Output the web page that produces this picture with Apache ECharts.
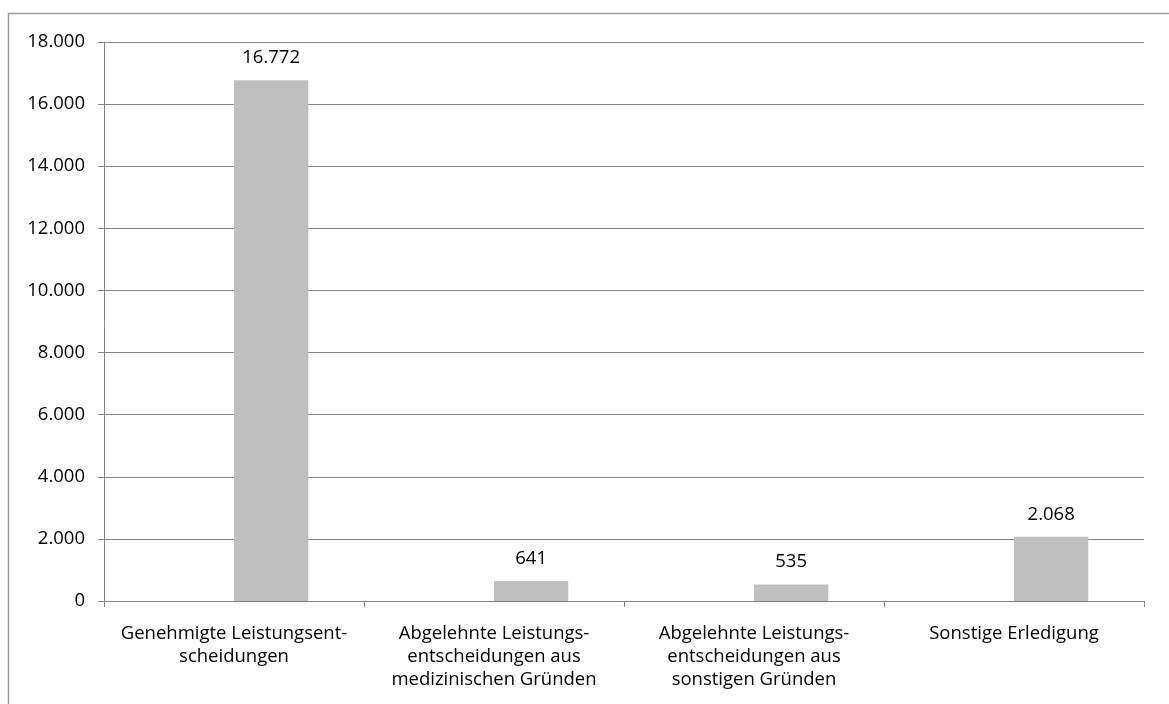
<!DOCTYPE html>
<html>
<head>
<meta charset="utf-8">
<script src="https://cdn.jsdelivr.net/npm/echarts@6/dist/echarts.min.js"></script>
<style>
html,body{margin:0;padding:0;background:#fff;}
#chart{width:1169px;height:704px;}
</style>
</head>
<body>
<div id="chart"></div>
<script>
const categories = [
  "Genehmigte Leistungsent-\nscheidungen",
  "Abgelehnte Leistungs-\nentscheidungen aus\nmedizinischen Gründen",
  "Abgelehnte Leistungs-\nentscheidungen aus\nsonstigen Gründen",
  "Sonstige Erledigung"
];
const emptySeries = [null, null, null, null];
const values = [16772, 641, 535, 2068];
const yMin = 0, yMax = 18000, yStep = 2000;

function de(v) {
  return String(Math.round(v)).replace(/\B(?=(\d{3})+(?!\d))/g, ".");
}

const FONT = "Open Sans";
const FS = 18.5;
const chart = echarts.init(document.getElementById('chart'));
chart.setOption({
  animation: false,
  backgroundColor: '#ffffff',
  textStyle: { fontFamily: FONT },
  graphic: [{
    type: 'rect',
    shape: { x: 8.5, y: 13.5, width: 1300, height: 800 },
    style: { fill: 'none', stroke: '#9a9a9a', lineWidth: 1.5 },
    silent: true
  }],
  grid: { left: 104, right: 25, top: 42, bottom: 103, containLabel: false },
  xAxis: {
    type: 'category',
    data: categories,
    axisLine: { lineStyle: { color: '#868686', width: 1 } },
    axisTick: { show: true, length: 6, lineStyle: { color: '#868686' } },
    axisLabel: { color: '#000', fontFamily: FONT, fontSize: FS, lineHeight: 23, margin: 21, interval: 0 }
  },
  yAxis: {
    type: 'value',
    min: yMin, max: yMax, interval: yStep,
    axisLine: { show: true, lineStyle: { color: '#868686', width: 1 } },
    axisTick: { show: true, length: 6, lineStyle: { color: '#868686' } },
    splitLine: { lineStyle: { color: '#868686', width: 1 } },
    axisLabel: { color: '#000', fontFamily: FONT, fontSize: FS, margin: 19, formatter: de }
  },
  series: [
    {
      type: 'bar', data: emptySeries,
      barGap: '0%', barCategoryGap: '42.86%',
      itemStyle: { color: '#8c8c8c' }
    },
    {
      type: 'bar', data: values,
      barGap: '0%', barCategoryGap: '42.86%',
      itemStyle: { color: '#bfbfbf' },
      label: {
        show: true, position: 'top', distance: 13,
        color: '#000', fontFamily: FONT, fontSize: FS,
        formatter: p => de(p.value)
      }
    }
  ]
});
</script>
</body>
</html>
